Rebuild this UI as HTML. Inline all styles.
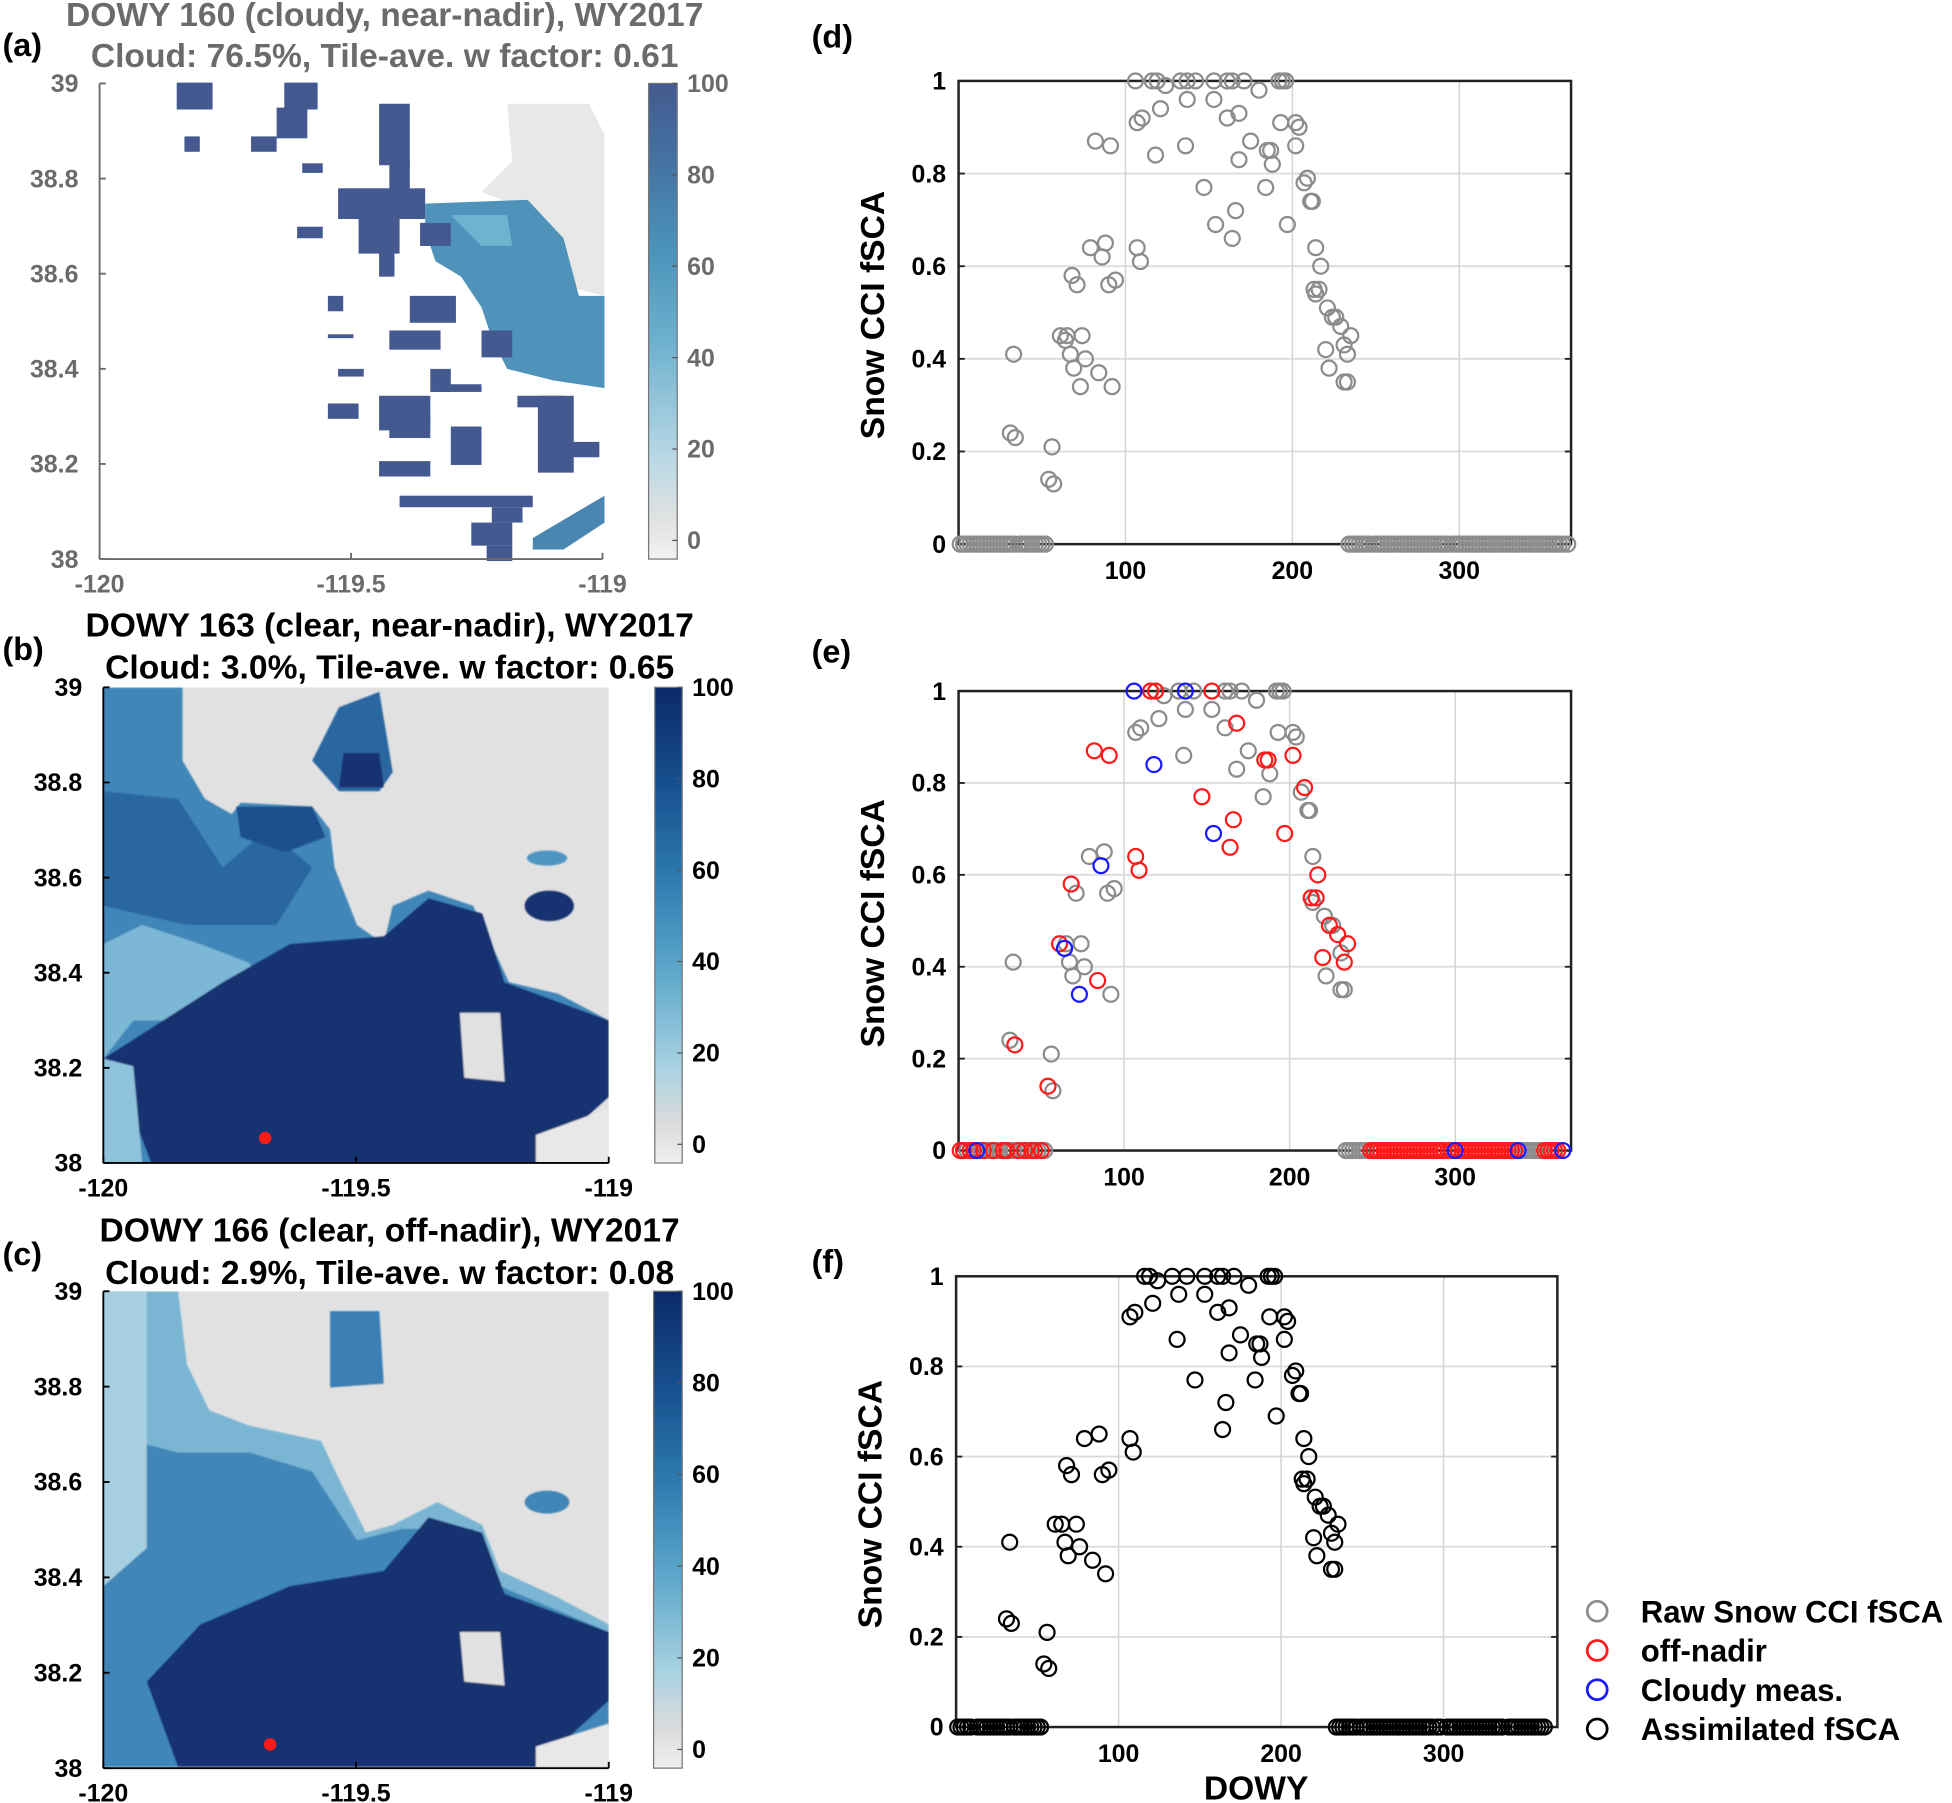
<!DOCTYPE html>
<html><head><meta charset="utf-8"><style>
html,body{margin:0;padding:0;background:#fff;}
svg{display:block;font-family:"Liberation Sans",sans-serif;font-weight:bold;}
</style></head><body>
<svg id="fig" width="1952" height="1803" viewBox="0 0 1568 1448" preserveAspectRatio="none">
<defs>
<linearGradient id="cbA" x1="0" y1="1" x2="0" y2="0">
<stop offset="0" stop-color="#f2f2f2"/><stop offset="0.08" stop-color="#e2e2e2"/><stop offset="0.22" stop-color="#b6d7e4"/><stop offset="0.45" stop-color="#6fb2cf"/><stop offset="0.65" stop-color="#4b93bb"/><stop offset="0.85" stop-color="#4470a0"/><stop offset="1" stop-color="#445a8e"/></linearGradient>
<linearGradient id="cbB" x1="0" y1="1" x2="0" y2="0">
<stop offset="0" stop-color="#f0f0f0"/><stop offset="0.08" stop-color="#dcdcdc"/><stop offset="0.2" stop-color="#a9d2e2"/><stop offset="0.4" stop-color="#5ea8cb"/><stop offset="0.6" stop-color="#2d7ab0"/><stop offset="0.8" stop-color="#174f8e"/><stop offset="1" stop-color="#0c2a6a"/></linearGradient>
<filter id="soft"><feGaussianBlur stdDeviation="2"/></filter>
<clipPath id="clipB"><rect x="83" y="552" width="406" height="382"/></clipPath>
<clipPath id="clipC"><rect x="83" y="1037" width="406" height="383"/></clipPath>
</defs>

<g>
<g transform="matrix(0.4115 0 0 0.3086 0 0)">
<polygon fill="#e8e8e8" points="990,270 1150,270 1180,350 1180,770 1120,750 1100,620 1040,550 940,500 1000,420"/>
<polygon fill="#4f93bb" points="830,530 1030,520 1100,620 1130,770 1180,770 1180,1010 1080,990 990,960 960,880 940,800 900,720 850,680 830,600"/>
<polygon fill="#6fb3d0" points="880,560 990,560 1000,640 940,640"/>
<g fill="#44598f">
<rect x="345" y="215" width="70" height="70"/><rect x="555" y="215" width="65" height="70"/><rect x="540" y="280" width="60" height="80"/>
<rect x="360" y="355" width="30" height="40"/><rect x="490" y="355" width="50" height="40"/><rect x="740" y="270" width="60" height="160"/>
<rect x="760" y="420" width="40" height="120"/><rect x="590" y="425" width="40" height="25"/><rect x="660" y="490" width="170" height="80"/>
<rect x="700" y="560" width="80" height="100"/><rect x="740" y="600" width="30" height="120"/><rect x="820" y="580" width="60" height="60"/>
<rect x="800" y="770" width="90" height="70"/><rect x="760" y="860" width="100" height="50"/><rect x="840" y="960" width="40" height="60"/>
<rect x="740" y="1030" width="100" height="90"/><rect x="760" y="1080" width="80" height="60"/><rect x="880" y="1110" width="60" height="100"/>
<rect x="1050" y="1030" width="70" height="200"/><rect x="780" y="1290" width="260" height="30"/><rect x="960" y="1320" width="60" height="40"/>
<rect x="920" y="1360" width="80" height="60"/><rect x="950" y="1420" width="50" height="40"/><rect x="640" y="870" width="50" height="10"/>
<rect x="940" y="860" width="60" height="70"/><rect x="1010" y="1030" width="90" height="30"/><rect x="580" y="590" width="50" height="30"/>
<rect x="640" y="1050" width="60" height="40"/><rect x="1100" y="1150" width="70" height="40"/><rect x="740" y="1200" width="100" height="40"/>
<rect x="640" y="770" width="30" height="40"/><rect x="660" y="960" width="50" height="20"/><rect x="850" y="1000" width="90" height="20"/>
</g>
<polygon fill="#4a86b2" points="1040,1400 1180,1290 1180,1360 1100,1430 1040,1430"/>
</g>
</g>

<g clip-path="url(#clipB)">
<rect x="83" y="552" width="406" height="382" fill="#e1e1e1"/>
<g transform="matrix(0.3593 0 0 0.3068 -0.72 482.05)" filter="url(#soft)">
<polygon fill="#3f86b8" points="233,228 410,228 410,420 460,520 520,560 540,530 700,540 740,600 750,700 800,850 860,900 880,800 960,760 1060,800 1100,900 1140,1000 1250,1030 1363,1100 1363,1300 1250,1370 1200,1473 233,1473"/>
<polygon fill="#7bb8d6" points="233,900 320,850 450,900 560,950 600,1050 450,1100 300,1100 233,1200"/>
<polygon fill="#2a66a0" points="233,500 400,520 500,700 600,600 700,700 620,850 420,850 233,800"/>
<polygon fill="#12326f" points="233,1200 300,1150 500,1000 650,900 860,880 960,780 1080,820 1130,1000 1363,1100 1363,1300 1200,1473 340,1473 300,1350"/>
<polygon fill="#8fc3dc" points="233,1200 300,1220 320,1473 233,1473"/>
<polygon fill="#1d4f8e" points="530,540 700,540 730,620 640,660 540,620"/>
<polygon fill="#2a66a0" points="760,280 850,240 880,450 850,500 760,500 700,420"/>
<polygon fill="#12326f" points="770,400 850,400 860,490 760,490"/>
<polygon fill="#e1e1e1" points="1030,1080 1120,1080 1130,1260 1040,1250"/>
<ellipse cx="1230" cy="800" rx="55" ry="40" fill="#12326f"/>
<ellipse cx="1225" cy="675" rx="45" ry="20" fill="#4f95c2"/>
<polygon fill="#e8e8e8" points="1200,1400 1363,1330 1363,1473 1200,1473"/>
</g>
<circle cx="213" cy="914" r="5" fill="#ff1a1a"/>
</g>

<g clip-path="url(#clipC)">
<rect x="83" y="1037" width="406" height="383" fill="#e1e1e1"/>
<g transform="matrix(0.3593 0 0 0.3068 -0.72 967.05)" filter="url(#soft)">
<polygon fill="#7ab6d4" points="233,228 400,228 420,420 470,540 560,580 720,620 760,720 820,860 880,840 980,780 1080,840 1120,960 1250,1030 1363,1100 1363,1300 1250,1370 1200,1473 233,1473"/>
<polygon fill="#3f86b8" points="233,600 400,650 560,650 700,700 800,880 900,850 1060,850 1120,1000 1363,1120 1363,1473 233,1473"/>
<polygon fill="#12326f" points="330,1250 450,1100 650,1000 860,960 960,820 1080,860 1130,1020 1363,1120 1363,1300 1200,1473 400,1473"/>
<polygon fill="#a6d0e2" points="233,228 330,228 330,900 233,1000"/>
<polygon fill="#e1e1e1" points="1030,1120 1120,1120 1130,1260 1040,1250"/>
<polygon fill="#3a7fb5" points="740,280 850,280 860,470 740,480"/>
<ellipse cx="1225" cy="780" rx="50" ry="30" fill="#3f86b8"/>
<polygon fill="#e8e8e8" points="1200,1420 1363,1360 1363,1473 1200,1473"/>
</g>
<circle cx="217" cy="1401" r="5" fill="#ff1a1a"/>
</g>

<g id="static"></g>
<g id="charts"></g>
</svg>
<script>
const posDays = [106,116,119,124,133,137,142,153,161,164,171,180,192,194,196,107,110,121,137,153,161,168,193,202,204,202,82,91,118,136,175,168,185,187,188,147,184,207,209,211,212,154,166,164,197,79,88,86,107,109,68,71,90,94,214,217,213,216,214,221,224,226,229,235,231,233,220,222,231,233,61,65,64,74,67,69,76,84,73,92,33,31,34,56,54,57];
const posVals = [1,1,1,.99,1,1,1,1,1,1,1,.98,1,1,1,.91,.92,.94,.96,.96,.92,.93,.91,.91,.90,.86,.87,.86,.84,.86,.87,.83,.85,.85,.82,.77,.77,.78,.79,.74,.74,.69,.72,.66,.69,.64,.65,.62,.64,.61,.58,.56,.56,.57,.64,.60,.55,.55,.54,.51,.49,.49,.47,.45,.43,.41,.42,.38,.35,.35,.45,.45,.44,.45,.41,.38,.40,.37,.34,.34,.41,.24,.23,.21,.14,.13];
// 0 = raw only, 1 = off-nadir, 2 = cloudy, 3 = off-nadir not assimilated
const posType = [2,1,1,0,0,2,0,1,0,0,0,0,0,0,0,0,0,0,0,0,0,1,0,0,0,1,3,3,2,0,0,0,1,1,0,1,0,0,1,0,0,2,1,1,1,0,0,2,1,1,1,0,0,0,0,1,1,1,0,0,1,0,1,1,0,1,1,0,0,0,1,0,2,0,0,0,0,1,2,0,0,0,1,0,1,0];
const zeroDays = [1,3,5,7,9,11,13,15,17,19,21,23,25,27,29,31,33,36,38,40,42,44,46,48,50,52,234,236,238,240,242,244,246,249,251,253,255,257,259,261,263,265,267,269,271,273,275,277,279,281,283,285,287,289,291,293,296,298,300,302,304,306,308,310,312,314,316,318,320,322,324,326,328,330,332,334,336,338,340,342,344,346,348,350,352,354,356,358,360,362,365];
const zeroType = [1,1,0,1,1,2,0,1,0,0,1,0,0,1,1,0,0,1,0,1,0,1,1,0,1,0,0,0,0,0,0,0,0,1,1,1,1,1,1,1,1,1,1,1,1,1,1,1,1,1,1,1,1,1,1,1,1,1,2,1,1,1,1,1,1,1,1,1,1,1,1,1,1,1,1,1,1,2,0,0,0,0,0,0,0,1,1,1,1,1,2];
const yTicks = [0,0.2,0.4,0.6,0.8,1];
const yTickLabels = ["0","0.2","0.4","0.6","0.8","1"];
const xTicks = [100,200,300];
const mapLatTicks = [38,38.2,38.4,38.6,38.8,39];
const mapLonTicks = [-120,-119.5,-119];
const cbarTicks = [0,20,40,60,80,100];

const NS='http://www.w3.org/2000/svg';
const charts=document.getElementById('charts');
const stat=document.getElementById('static');
function mk(tag,attrs,parent){const e=document.createElementNS(NS,tag);for(const k in attrs)e.setAttribute(k,attrs[k]);(parent||charts).appendChild(e);return e;}
function txt(s,x,y,size,fill,anchor,parent){const t=mk('text',{x:x,y:y,'font-size':size,fill:fill,'text-anchor':anchor||'middle'},parent);t.textContent=s;return t;}

const maps=[
 {id:'a',L:80,R:484,T:67,B:449,cbL:521,cbR:544,grad:'cbA',col:'#6b6b6b',t1:'DOWY 160 (cloudy, near-nadir), WY2017',t2:'Cloud: 76.5%, Tile-ave. w factor: 0.61',ty1:21,ty2:54,lab:'(a)',ly:45},
 {id:'b',L:83,R:489,T:552,B:934,cbL:526,cbR:548,grad:'cbB',col:'#000',t1:'DOWY 163 (clear, near-nadir), WY2017',t2:'Cloud: 3.0%, Tile-ave. w factor: 0.65',ty1:511,ty2:545,lab:'(b)',ly:530},
 {id:'c',L:83,R:489,T:1037,B:1420,cbL:525,cbR:548,grad:'cbB',col:'#000',t1:'DOWY 166 (clear, off-nadir), WY2017',t2:'Cloud: 2.9%, Tile-ave. w factor: 0.08',ty1:997,ty2:1031,lab:'(c)',ly:1016}
];
maps.forEach(m=>{
  const g=mk('g',{},stat);
  
  
  const lx=v=>m.L+(v+120)*(m.R-m.L);
  const ly=v=>m.B-(v-38)*(m.B-m.T);
  mk('line',{x1:m.L,y1:m.T,x2:m.L,y2:m.B,stroke:m.col,'stroke-width':1.5},g);
  mk('line',{x1:m.L,y1:m.B,x2:m.R,y2:m.B,stroke:m.col,'stroke-width':1.5},g);
  mapLatTicks.forEach(v=>{mk('line',{x1:m.L,y1:ly(v),x2:m.L+5,y2:ly(v),stroke:m.col,'stroke-width':1.5},g);
    const t=txt(String(v),m.L-17,ly(v)+7,20,m.col,'end',g);});
  mapLonTicks.forEach(v=>{mk('line',{x1:lx(v),y1:m.B,x2:lx(v),y2:m.B-5,stroke:m.col,'stroke-width':1.5},g);
    const t=txt(String(v),lx(v),m.B+27,20,m.col,'middle',g);});
  const cb=mk('rect',{x:m.cbL,y:m.T,width:m.cbR-m.cbL,height:m.B-m.T,fill:'url(#'+m.grad+')',stroke:'#777','stroke-width':1},g);
  
  
  cbarTicks.forEach(v=>{const y=m.B-15-(v/100)*(m.B-m.T-15);
    mk('line',{x1:m.cbR-4,y1:y,x2:m.cbR,y2:y,stroke:'#555','stroke-width':1},g);
    const t=txt(String(v),m.cbR+8,y+7,20,m.col,'start',g);});
  const cx=(m.L+m.R)/2+27;
  let t=txt(m.t1,cx,m.ty1,27,m.col,'middle',g);
  t=txt(m.t2,cx,m.ty2,27,m.col,'middle',g);
  t=txt(m.lab,2,m.ly,26,'#000','start',g);
});

const panels=[
 {id:'d',L:770,R:1262,T:65,B:437,xmax:367,mode:'raw',lab:'(d)',ly:38},
 {id:'e',L:770,R:1262,T:555,B:924,xmax:370,mode:'cat',lab:'(e)',ly:532},
 {id:'f',L:768,R:1251,T:1025,B:1387,xmax:370,mode:'assim',lab:'(f)',ly:1022}
];
const colors=['#8c8c8c','#ff1a1a','#1a1aff','#ff1a1a'];
panels.forEach(p=>{
  const g=mk('g',{});
  
  
  const xs=v=>p.L+v/p.xmax*(p.R-p.L);
  const ys=v=>p.B-v*(p.B-p.T);
  yTicks.forEach((v,i)=>{
    if(v>0&&v<1)mk('line',{x1:p.L,y1:ys(v),x2:p.R,y2:ys(v),stroke:'#dcdcdc','stroke-width':1.5},g);
    mk('line',{x1:p.L,y1:ys(v),x2:p.L+5,y2:ys(v),stroke:'#222','stroke-width':1.5},g);
    mk('line',{x1:p.R,y1:ys(v),x2:p.R-5,y2:ys(v),stroke:'#222','stroke-width':1.5},g);
    const t=txt(yTickLabels[i],p.L-10,ys(v)+7,20,'#000','end',g);
    
    
  });
  xTicks.forEach(v=>{
    mk('line',{x1:xs(v),y1:p.T,x2:xs(v),y2:p.B,stroke:'#d4d4d4','stroke-width':1.2},g);
    const t=txt(String(v),xs(v),p.B+28,20,'#000','middle',g);
    
    
  });
  mk('rect',{x:p.L,y:p.T,width:p.R-p.L,height:p.B-p.T,fill:'none',stroke:'#222','stroke-width':2},g);
  const yl=txt('Snow CCI fSCA',0,0,27,'#000','middle',g);
  yl.setAttribute('transform','translate('+(p.L-60)+','+((p.T+p.B)/2+2)+') rotate(-90)');
  
  
  const lab=txt(p.lab,652,p.ly,26,'#000','start',g);
  
  
  function pt(d,v,type){
    let col;
    if(p.mode==='raw')col=colors[0];
    else if(p.mode==='cat')col=colors[type];
    else{ if(type===2||type===3)return; col='#000'; }
    const c=mk('circle',{cx:xs(d),cy:ys(v),r:6,fill:'none',stroke:col,'stroke-width':1.8},g);
    
    
  }
  [0,1,3,2].forEach(tp=>{
    zeroDays.forEach((d,i)=>{if(zeroType[i]===tp)pt(d,0,tp);});
    posDays.forEach((d,i)=>{if(posType[i]===tp)pt(d,posVals[i],tp);});
  });
});
const xt=txt('DOWY',1009,1445,27,'#000','middle');



const legLabels=['Raw Snow CCI fSCA','off-nadir','Cloudy meas.','Assimilated fSCA'];
const legColors=['#8c8c8c','#ff1a1a','#1a1aff','#000'];
const lg=mk('g',{});


legLabels.forEach((s,i)=>{
  const y=1294+i*31.5;
  const c=mk('circle',{cx:1283,cy:y,r:8,fill:'none',stroke:legColors[i],'stroke-width':2.2},lg);
  
  
  const t=txt(s,1318,y+9,25,'#000','start',lg);
  
  
});
</script>
</body></html>
